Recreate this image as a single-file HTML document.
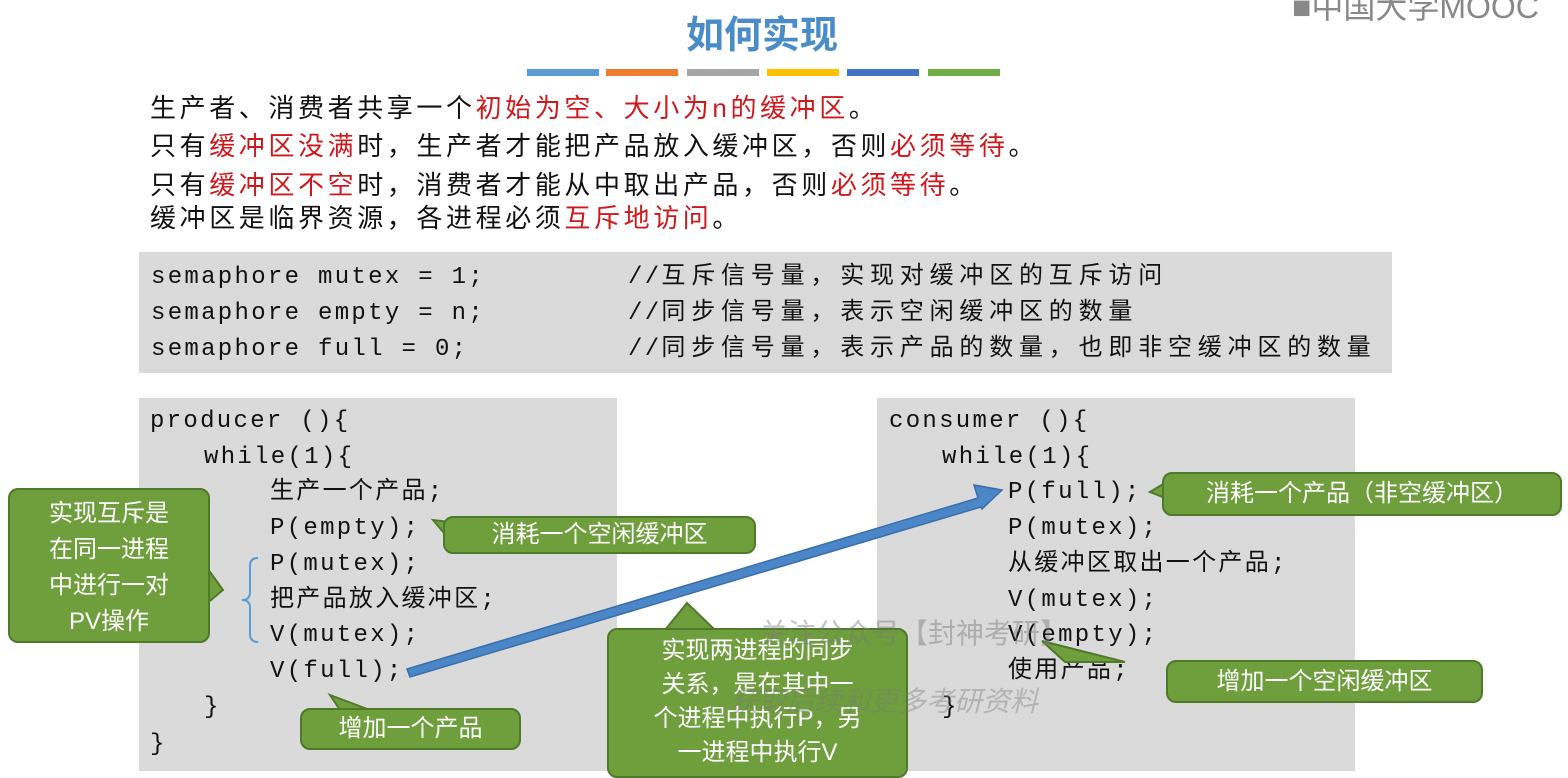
<!DOCTYPE html>
<html><head><meta charset="utf-8"><style>
body{margin:0;width:1568px;height:771px;background:#fff;position:relative;overflow:hidden;font-family:"Liberation Sans","Noto Sans CJK SC",sans-serif}
.a{position:absolute;white-space:nowrap}
.t{font-size:26px;color:#111;left:150px;line-height:34px;letter-spacing:3.6px}
.r{color:#d0181c}
.g{position:absolute;background:#dadada}
.m{font-family:"Liberation Mono","Noto Sans CJK SC",monospace;font-size:24px;color:#111;position:absolute;white-space:nowrap;letter-spacing:2.3px;line-height:30px}
.k{letter-spacing:5.8px}
.c{position:absolute;background:#6f9e3c;border:2px solid #4f7a2a;border-radius:10px;color:#fff;font-size:24px;text-align:center;box-sizing:border-box}
.bar{position:absolute;top:69px;height:7px;width:72px}
</style></head><body>
<div class="a" style="left:686px;top:4px;font-size:38px;color:#4a8cc8;font-weight:bold">如何实现</div>
<div class="a" style="left:1292px;top:-18px;font-size:32px;color:#888">■中国大学MOOC</div>
<div class="bar" style="left:527px;background:#5b9bd5"></div>
<div class="bar" style="left:606px;background:#ed7d31"></div>
<div class="bar" style="left:687px;background:#a5a5a5"></div>
<div class="bar" style="left:767px;background:#ffc000"></div>
<div class="bar" style="left:847px;background:#4472c4"></div>
<div class="bar" style="left:928px;background:#70ad47"></div>
<div class="a t" style="top:91px">生产者、消费者共享一个<span class="r">初始为空、大小为n的缓冲区</span>。</div>
<div class="a t" style="top:129px">只有<span class="r">缓冲区没满</span>时，生产者才能把产品放入缓冲区，否则<span class="r">必须等待</span>。</div>
<div class="a t" style="top:168px">只有<span class="r">缓冲区不空</span>时，消费者才能从中取出产品，否则<span class="r">必须等待</span>。</div>
<div class="a t" style="top:201px">缓冲区是临界资源，各进程必须<span class="r">互斥地访问</span>。</div>

<div class="g" style="left:139px;top:252px;width:1253px;height:121px"></div>
<div class="m" style="left:151px;top:263px">semaphore mutex = 1;</div>
<div class="m" style="left:151px;top:299px">semaphore empty = n;</div>
<div class="m" style="left:151px;top:335px">semaphore full = 0;</div>
<div class="m" style="left:628px;top:263px">//<span class="k">互斥信号量，实现对缓冲区的互斥访问</span></div>
<div class="m" style="left:628px;top:299px">//<span class="k">同步信号量，表示空闲缓冲区的数量</span></div>
<div class="m" style="left:628px;top:335px">//<span class="k">同步信号量，表示产品的数量，也即非空缓冲区的数量</span></div>

<div class="g" style="left:139px;top:398px;width:478px;height:373px"></div>
<div class="m" style="left:150px;top:407px">producer (){</div>
<div class="m" style="left:204px;top:443px">while(1){</div>
<div class="m" style="left:270px;top:478px">生产一个产品;</div>
<div class="m" style="left:270px;top:514px">P(empty);</div>
<div class="m" style="left:270px;top:550px">P(mutex);</div>
<div class="m" style="left:270px;top:586px">把产品放入缓冲区;</div>
<div class="m" style="left:270px;top:621px">V(mutex);</div>
<div class="m" style="left:270px;top:657px">V(full);</div>
<div class="m" style="left:204px;top:693px">}</div>
<div class="m" style="left:150px;top:730px">}</div>

<div class="g" style="left:877px;top:398px;width:478px;height:373px"></div>
<div class="m" style="left:889px;top:407px">consumer (){</div>
<div class="m" style="left:942px;top:443px">while(1){</div>
<div class="m" style="left:1008px;top:478px">P(full);</div>
<div class="m" style="left:1008px;top:514px">P(mutex);</div>
<div class="m" style="left:1008px;top:550px">从缓冲区取出一个产品;</div>
<div class="m" style="left:1008px;top:586px">V(mutex);</div>
<div class="m" style="left:1008px;top:621px">V(empty);</div>
<div class="m" style="left:1008px;top:657px">使用产品;</div>
<div class="m" style="left:942px;top:693px">}</div>

<svg class="a" style="left:0;top:0" width="1568" height="771">
<path d="M258,558 q-8,0 -8,8 v26 q0,8 -8,8 q8,0 8,8 v26 q0,8 8,8" fill="none" stroke="#5b9bd5" stroke-width="2"/>
<path d="M407,669 L978,498 L974,485 L1002,490 L982,509 L981,507 L410,677 Z" fill="#4a86c8" stroke="#3a6fa8" stroke-width="1.5"/>
<g fill="#6f9e3c" stroke="#4f7a2a" stroke-width="2">
<path d="M205,565 L223,590 L205,605 Z"/>
<path d="M450,522 L433,520 L450,540 Z"/>
<path d="M340,710 L330,695 L370,710 Z"/>
<path d="M665,630 L687,603 L715,630 Z"/>
<path d="M1170,480 L1150,492 L1170,500 Z"/>
<path d="M1065,662 L1042,641 L1125,662 Z"/>
</g>
</svg>
<div class="c" style="left:8px;top:488px;width:202px;height:155px;line-height:36px;padding-top:6px">实现互斥是<br>在同一进程<br>中进行一对<br>PV操作</div>
<div class="c" style="left:443px;top:516px;width:313px;height:38px;line-height:34px">消耗一个空闲缓冲区</div>
<div class="c" style="left:300px;top:708px;width:221px;height:42px;line-height:38px">增加一个产品</div>
<div class="c" style="left:607px;top:628px;width:301px;height:150px;line-height:34px;padding-top:4px">实现两进程的同步<br>关系，是在其中一<br>个进程中执行P，另<br>一进程中执行V</div>
<div class="c" style="left:1162px;top:472px;width:400px;height:44px;line-height:40px">消耗一个产品（非空缓冲区）</div>
<div class="c" style="left:1166px;top:660px;width:317px;height:43px;line-height:39px">增加一个空闲缓冲区</div>
<div class="a" style="left:760px;top:612px;font-size:28px;color:rgba(120,120,120,0.45)">关注公众号【封神考研】</div>
<div class="a" style="left:730px;top:680px;font-size:28px;font-style:italic;color:rgba(120,120,120,0.4)">获取后续和更多考研资料</div>
</body></html>
